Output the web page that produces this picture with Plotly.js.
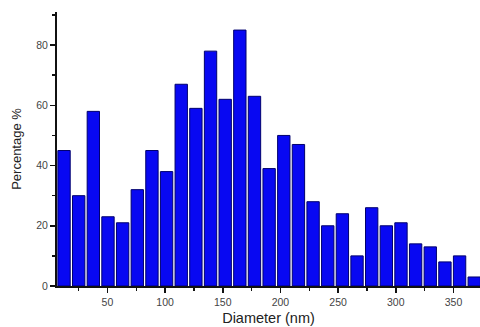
<!DOCTYPE html>
<html>
<head>
<meta charset="utf-8">
<script src="https://cdn.plot.ly/plotly-3.0.1.min.js"></script>
<style>html,body{margin:0;padding:0;background:#fff;}#chart{width:480px;height:327px;}</style>
</head>
<body>
<div id="chart"></div>
<script>
// Bin centres (nm) and percentages
const diameters = [12.4, 25.1, 37.8, 50.5, 63.2, 75.9, 88.6, 101.3, 114.0, 126.7, 139.4, 152.1, 164.8, 177.5, 190.2, 202.9, 215.6, 228.3, 241.0, 253.7, 266.4, 279.1, 291.8, 304.5, 317.2, 329.9, 342.6, 355.3, 368.0];
const percentages = [45, 30, 58, 23, 21, 32, 45, 38, 67, 59, 78, 62, 85, 63, 39, 50, 47, 28, 20, 24, 10, 26, 20, 21, 14, 13, 8, 10, 3];
const xTicks = [50, 100, 150, 200, 250, 300, 350];
const yTicks = [0, 20, 40, 60, 80];

const trace = {
  type: 'bar',
  x: diameters,
  y: percentages,
  width: 10.7,
  marker: {color: '#0808f2', line: {color: '#00006e', width: 1}},
  hoverinfo: 'x+y'
};

const axisCommon = {
  showgrid: false, zeroline: false, showline: true, linecolor: '#111', linewidth: 2,
  ticks: 'outside', ticklen: 5, tickwidth: 1.5, tickcolor: '#111',
  tickfont: {family: 'Liberation Sans, Arial, sans-serif', size: 10.5, color: '#444'},
  minor: {ticks: 'outside', ticklen: 3, tickwidth: 1.5, tickcolor: '#111'}
};

const layout = {
  width: 480, height: 327,
  margin: {l: 57, r: 0, t: 12, b: 41},
  paper_bgcolor: '#fff', plot_bgcolor: '#fff',
  showlegend: false,
  bargap: 0,
  xaxis: Object.assign({}, axisCommon, {
    range: [6.3, 373], tickmode: 'array', tickvals: xTicks,
    minor: Object.assign({}, axisCommon.minor, {tickmode: 'array', tickvals: [25, 75, 125, 175, 225, 275, 325]}),
    title: {text: 'Diameter (nm)', font: {family: 'Liberation Sans, Arial, sans-serif', size: 14.5, color: '#222'}, standoff: 6}
  }),
  yaxis: Object.assign({}, axisCommon, {
    range: [0, 91], tickmode: 'array', tickvals: yTicks,
    minor: Object.assign({}, axisCommon.minor, {tickmode: 'array', tickvals: [10, 30, 50, 70, 90]}),
    title: {text: 'Percentage %', font: {family: 'Liberation Sans, Arial, sans-serif', size: 13, color: '#222'}, standoff: 12}
  })
};

Plotly.newPlot('chart', [trace], layout, {displayModeBar: false, staticPlot: true});
</script>
</body>
</html>
